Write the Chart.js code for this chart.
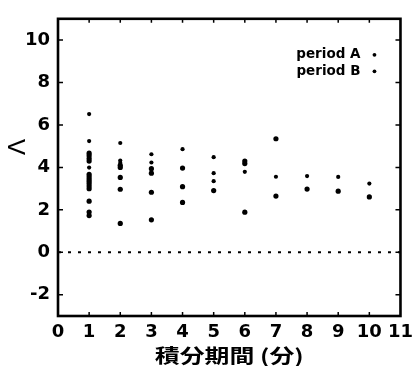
<!DOCTYPE html>
<html>
<head>
<meta charset="utf-8">
<script src="https://cdn.jsdelivr.net/npm/chart.js@4/dist/chart.umd.min.js"></script>
<style>
  html, body { margin: 0; padding: 0; background: #fff; }
  #wrap { width: 419px; height: 366px; }
</style>
</head>
<body>
<div id="wrap"><canvas id="chart" width="419" height="366"></canvas></div>
<script>
// integration period (min) and Lambda values
const periodAX = [1,1,1,1,1,1,1,1,1,1,1,1,1,1, 2,2,2,2,2, 3,3,3,3, 4,4,4, 5, 6,6,6, 7,7, 8, 9, 10];
const periodAY = [4.67,4.55,4.42,4.30,3.67,3.56,3.45,3.35,3.24,3.12,3.00,2.41,1.90,1.73,
                  4.10,4.00,3.53,2.97,1.36,
                  3.94,3.73,2.83,1.53,
                  3.97,3.09,2.35,
                  2.91,
                  4.30,4.18,1.89,
                  5.35,2.65,
                  2.98,
                  2.88,
                  2.61];
const periodBX = [1,1,1, 2,2,2, 3,3, 4, 5,5,5, 6, 7, 8, 9, 10];
const periodBY = [6.51,5.24,3.99, 5.15,4.32,4.21, 4.62,4.23, 4.86, 4.48,3.73,3.35, 3.79, 3.56, 3.59, 3.55, 3.24];
const zeroLineX = [0, 11];
const zeroLineY = [0, 0];
const xTicks = [0,1,2,3,4,5,6,7,8,9,10,11];
const yTicks = [-2,0,2,4,6,8,10];
const xTitle = '積分期間 (分)';
const yTitle = 'Λ';

const toPoints = (xs, ys) => xs.map((x, i) => ({ x: x, y: ys[i] }));

// frame, inward ticks, axis titles and the little legend in the corner
const framePlugin = {
  id: 'frame',
  afterDatasetsDraw(chart) {
    const { ctx, chartArea: a, scales } = chart;
    const xs = scales.x, ys = scales.y;
    ctx.save();
    ctx.strokeStyle = '#000';
    ctx.lineWidth = 1.5;
    xTicks.forEach(v => {
      if (v <= xs.min || v >= xs.max) return;
      const px = xs.getPixelForValue(v);
      ctx.beginPath();
      ctx.moveTo(px, a.bottom); ctx.lineTo(px, a.bottom - 4);
      ctx.moveTo(px, a.top); ctx.lineTo(px, a.top + 4);
      ctx.stroke();
    });
    yTicks.forEach(v => {
      const py = ys.getPixelForValue(v);
      ctx.beginPath();
      ctx.moveTo(a.left, py); ctx.lineTo(a.left + 5, py);
      ctx.moveTo(a.right, py); ctx.lineTo(a.right - 5, py);
      ctx.stroke();
    });
    ctx.lineWidth = 2.6;
    ctx.strokeRect(a.left, a.top, a.right - a.left, a.bottom - a.top);

    // legend: text then marker
    ctx.fillStyle = '#000';
    ctx.font = 'bold 13.5px "DejaVu Sans", sans-serif';
    ctx.textAlign = 'right';
    ctx.textBaseline = 'middle';
    const sets = chart.data.datasets.filter(d => d.showInLegend);
    sets.forEach((d, i) => {
      const ty = a.top + 36 + i * 16.5;
      ctx.fillText(d.label, a.right - 40, ty);
      ctx.beginPath();
      ctx.arc(a.right - 26, ty, 1.9, 0, Math.PI * 2);
      ctx.fill();
    });

    // y title (rotated)
    ctx.save();
    ctx.translate(18, 147);
    ctx.rotate(-Math.PI / 2);
    ctx.textAlign = 'center';
    ctx.font = '24px "Liberation Sans", Arial, sans-serif';
    ctx.fillText(yTitle, 0, 0);
    ctx.restore();

    // x title, stretched a bit like the original
    ctx.save();
    ctx.font = 'bold 19px "Noto Sans CJK JP", sans-serif';
    ctx.textAlign = 'center';
    const w = ctx.measureText(xTitle).width;
    const cx = (a.left + a.right) / 2;
    ctx.translate(cx, 356);
    ctx.scale(149 / w, 1);
    ctx.fillText(xTitle, 0, 0);
    ctx.restore();
    ctx.restore();
  }
};

new Chart(document.getElementById('chart'), {
  type: 'scatter',
  data: {
    datasets: [
      {
        label: 'period A',
        data: toPoints(periodAX, periodAY),
        pointRadius: 2.6,
        pointHoverRadius: 2.6,
        pointBackgroundColor: '#000',
        pointBorderWidth: 0,
        showInLegend: true
      },
      {
        label: 'period B',
        data: toPoints(periodBX, periodBY),
        pointRadius: 2.1,
        pointHoverRadius: 2.1,
        pointBackgroundColor: '#000',
        pointBorderWidth: 0,
        showInLegend: true
      },
      {
        type: 'line',
        label: 'zero',
        data: toPoints(zeroLineX, zeroLineY),
        borderColor: '#000',
        borderWidth: 2,
        borderDash: [3, 7],
        pointRadius: 0,
        fill: false
      }
    ]
  },
  options: {
    responsive: false,
    animation: false,
    layout: { padding: { top: 9, right: 12, left: 0, bottom: 0 } },
    plugins: { legend: { display: false }, tooltip: { enabled: false } },
    scales: {
      x: {
        type: 'linear',
        min: 0, max: 11,
        afterFit: s => { s.height = 50; },
        afterBuildTicks: s => { s.ticks = xTicks.map(v => ({ value: v })); },
        grid: { display: false, drawTicks: false },
        border: { display: false },
        ticks: {
          padding: 6,
          color: '#000',
          font: { family: '"DejaVu Sans", sans-serif', size: 18, weight: 'bold' }
        }
      },
      y: {
        type: 'linear',
        min: -3, max: 11,
        afterFit: s => { s.width = 58; },
        afterBuildTicks: s => { s.ticks = yTicks.map(v => ({ value: v })); },
        grid: { display: false, drawTicks: false },
        border: { display: false },
        ticks: {
          padding: 8,
          color: '#000',
          font: { family: '"DejaVu Sans", sans-serif', size: 18, weight: 'bold' }
        }
      }
    }
  },
  plugins: [framePlugin]
});
</script>
</body>
</html>
